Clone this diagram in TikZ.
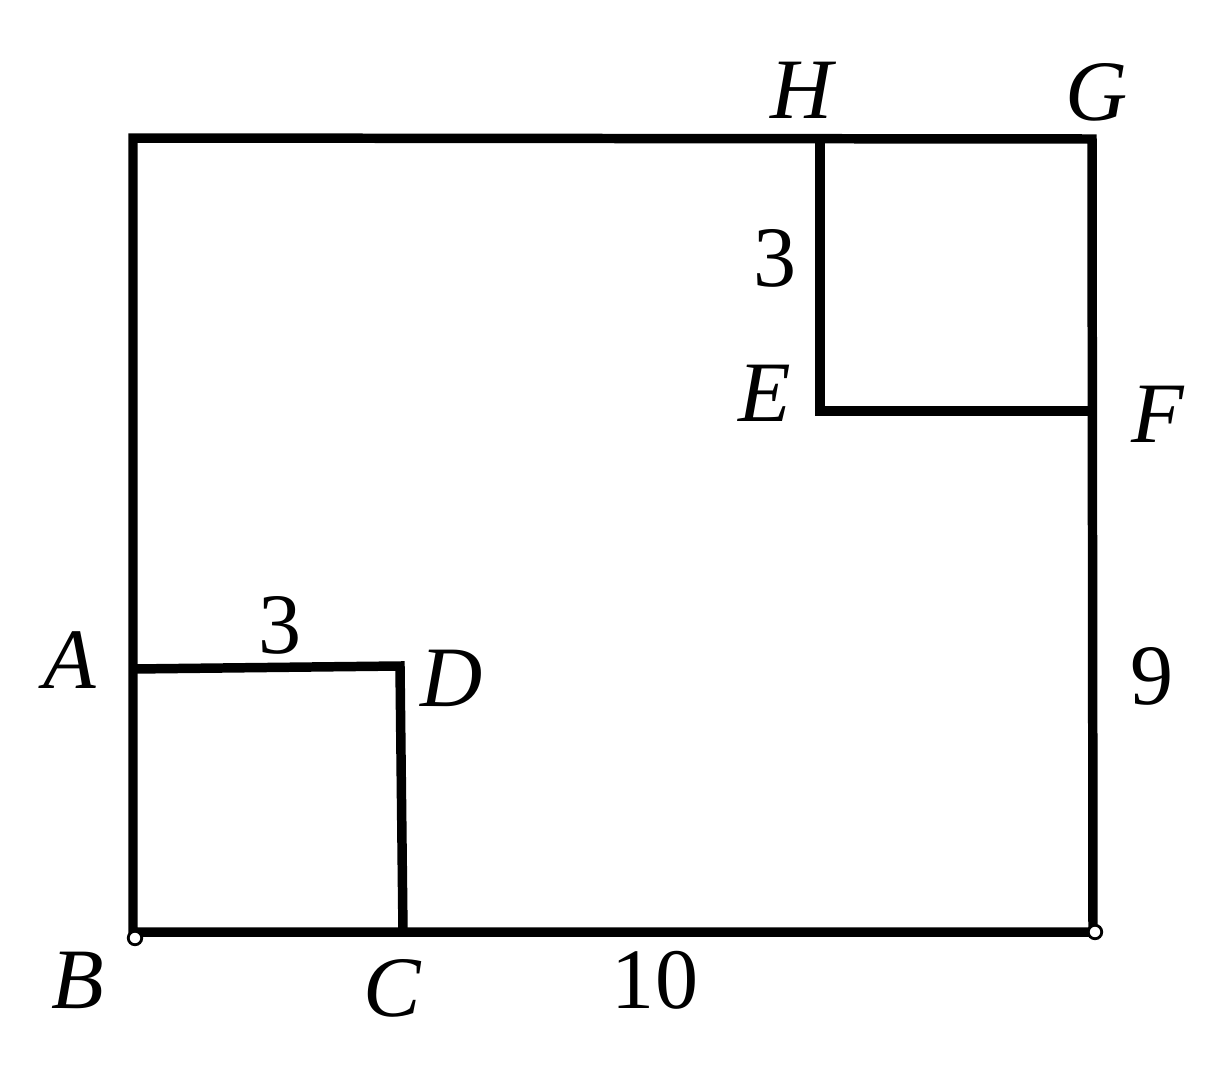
\documentclass[tikz,border=0pt]{standalone}
\usepackage{fontspec}
\setmainfont{Liberation Serif}
\usetikzlibrary{positioning}
\tikzstyle{edge} = [line width=5.4pt, line join=miter]
\tikzstyle{letter} = [font=\fontsize{49}{49}\selectfont\itshape, inner sep=0pt]
\tikzstyle{number} = [font=\fontsize{49}{49}\selectfont, inner sep=0pt]
\tikzstyle{dot} = [circle, draw, fill=white, line width=1.6pt, inner sep=0pt, minimum size=0.27cm]

\begin{document}
\begin{tikzpicture}[x=0.02cm, y=-0.02cm]
				\useasboundingbox (0,0) rectangle (1232,1079);
				\coordinate (B) at (133,932);
				\coordinate (C) at (403,932);
				\coordinate (R) at (1093,932);
				\coordinate (G) at (1092,139);
				\coordinate (T) at (133,138);
				\coordinate (A) at (133,669);
				\coordinate (D) at (400,666);
				\coordinate (H) at (820,139);
				\coordinate (E) at (820,411);
				\coordinate (F) at (1092,411);
				
				\draw [edge] (A) -- (T) -- (G) -- (R) -- (B) -- cycle;
				\draw [edge] (A) -- (D) -- (C);
				\draw [edge] (H) -- (E) -- (F);
				
				\node (dotB)[dot] at (135,938){};
				\node (dotR)[dot] at (1095,932){};
				
				\node (labA)[letter] at (70,660){A};
				\node (labB)[letter] at (78,980){B};
				\node (labC)[letter] at (392,988){C};
				\node (labD)[letter] at (452,678){D};
				\node (labE)[letter] at (765,393){E};
				\node (labF)[letter] at (1158,414){F};
				\node (labG)[letter] at (1097,92){G};
				\node (labH)[letter] at (802,90){H};
				\node (numAD)[number] at (280,625){3};
				\node (numHE)[number] at (775,258){3};
				\node (numBR)[number] at (655,980){10};
				\node (numGR)[number] at (1152,676){9};
			\end{tikzpicture}
\end{document}
